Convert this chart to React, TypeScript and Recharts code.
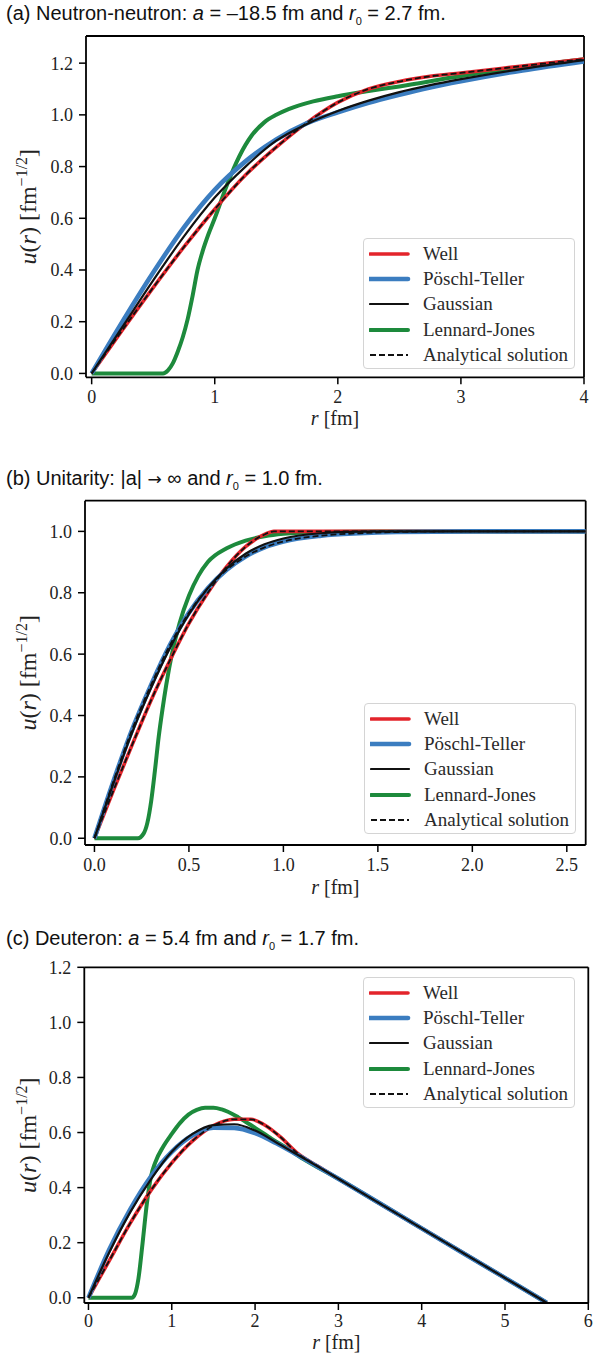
import React from "react";
import { LineChart, Line, XAxis, YAxis, Legend, ReferenceLine } from "recharts";

const SERIF = '"Liberation Serif", "Times New Roman", serif';
const SANS = '"Liberation Sans", Arial, sans-serif';

const RED = "#e3242b";
const BLUE = "#3b7dc0";
const GREEN = "#1d8a3c";
const BLACK = "#111111";

// ---- panel (a) neutron-neutron ----
const aR = [0, 0.25, 0.5, 0.75, 1.0, 1.25, 1.5, 1.75, 2.0, 2.25, 2.5, 2.75, 3.0, 3.5, 4.0];
const aWell = [0, 0.168, 0.332, 0.489, 0.635, 0.767, 0.875, 0.97, 1.048, 1.1, 1.129, 1.149, 1.162, 1.189, 1.216];
const aPoschl = [0, 0.2, 0.39, 0.565, 0.71, 0.82, 0.905, 0.968, 1.01, 1.047, 1.078, 1.106, 1.13, 1.172, 1.207];
const aGauss = [0, 0.18, 0.36, 0.53, 0.68, 0.8, 0.9, 0.965, 1.015, 1.055, 1.088, 1.115, 1.138, 1.178, 1.212];
const aLjR = [0, 0.58, 0.62, 0.66, 0.7, 0.74, 0.78, 0.82, 0.86, 0.9, 0.95, 1.0, 1.1, 1.2, 1.3, 1.4, 1.5, 1.6, 1.8, 2.0, 2.25, 2.5, 3.0, 3.5, 4.0];
const aLj = [0, 0, 0.012, 0.04, 0.085, 0.14, 0.21, 0.3, 0.4, 0.47, 0.54, 0.6, 0.73, 0.84, 0.92, 0.97, 1.0, 1.022, 1.052, 1.072, 1.092, 1.11, 1.15, 1.185, 1.215];
const aAnalytic = [0, 0.168, 0.332, 0.489, 0.635, 0.767, 0.875, 0.97, 1.048, 1.1, 1.129, 1.149, 1.162, 1.189, 1.216];

// ---- panel (b) unitarity ----
const bWellR = [0, 0.1, 0.2, 0.3, 0.4, 0.5, 0.6, 0.7, 0.8, 0.9, 0.95, 1.2, 1.6, 2.0, 2.6];
const bWell = [0, 0.155, 0.305, 0.45, 0.58, 0.7, 0.8, 0.885, 0.95, 0.99, 1.0, 1.0, 1.0, 1.0, 1.0];
const bR = [0, 0.1, 0.2, 0.3, 0.4, 0.5, 0.6, 0.7, 0.8, 0.9, 1.0, 1.2, 1.4, 1.6, 2.0, 2.6];
const bPoschl = [0, 0.185, 0.355, 0.5, 0.63, 0.735, 0.815, 0.875, 0.918, 0.948, 0.967, 0.986, 0.994, 0.998, 1.0, 1.0];
const bGauss = [0, 0.178, 0.345, 0.49, 0.62, 0.73, 0.815, 0.88, 0.927, 0.958, 0.977, 0.994, 0.999, 1.0, 1.0, 1.0];
const bLjR = [0, 0.23, 0.26, 0.28, 0.3, 0.32, 0.34, 0.36, 0.38, 0.41, 0.45, 0.5, 0.55, 0.6, 0.7, 0.8, 0.9, 1.0, 1.2, 1.5, 2.6];
const bLj = [0, 0, 0.015, 0.05, 0.12, 0.22, 0.33, 0.42, 0.5, 0.6, 0.7, 0.79, 0.855, 0.9, 0.945, 0.97, 0.984, 0.992, 0.998, 1.0, 1.0];
const bAnalyticWell = [0, 0.155, 0.305, 0.45, 0.58, 0.7, 0.8, 0.885, 0.95, 0.99, 1.0, 1.0, 1.0, 1.0, 1.0];
const bAnalyticPoschl = [0, 0.185, 0.355, 0.5, 0.63, 0.735, 0.815, 0.875, 0.918, 0.948, 0.967, 0.986, 0.994, 0.998, 1.0, 1.0];

// ---- panel (c) deuteron ----
const cWellR = [0, 0.25, 0.5, 0.75, 1.0, 1.25, 1.5, 1.75, 1.95, 2.1, 2.3, 2.5, 2.75, 3.0, 3.5, 4.0, 4.5, 5.0, 5.4, 5.5];
const cWell = [0, 0.135, 0.27, 0.39, 0.49, 0.57, 0.625, 0.648, 0.648, 0.63, 0.585, 0.527, 0.478, 0.432, 0.342, 0.252, 0.162, 0.072, 0, -0.018];
const cR = [0, 0.25, 0.5, 0.75, 1.0, 1.25, 1.5, 1.75, 2.0, 2.25, 2.5, 2.75, 3.0, 3.5, 4.0, 4.5, 5.0, 5.4, 5.5];
const cPoschl = [0, 0.175, 0.32, 0.44, 0.53, 0.59, 0.618, 0.617, 0.598, 0.562, 0.52, 0.476, 0.432, 0.342, 0.252, 0.162, 0.072, 0, -0.018];
const cGauss = [0, 0.165, 0.31, 0.43, 0.53, 0.595, 0.627, 0.63, 0.607, 0.565, 0.521, 0.477, 0.432, 0.342, 0.252, 0.162, 0.072, 0, -0.018];
const cLjR = [0, 0.52, 0.56, 0.6, 0.65, 0.7, 0.75, 0.8, 0.9, 1.0, 1.1, 1.2, 1.3, 1.4, 1.5, 1.6, 1.8, 2.0, 2.2, 2.4, 2.6, 2.8, 3.0, 3.5, 4.0, 4.5, 5.0, 5.4, 5.5];
const cLj = [0, 0, 0.015, 0.07, 0.2, 0.34, 0.44, 0.49, 0.55, 0.595, 0.635, 0.665, 0.682, 0.69, 0.69, 0.684, 0.655, 0.617, 0.577, 0.54, 0.5, 0.466, 0.432, 0.342, 0.252, 0.162, 0.072, 0, -0.018];
const cAnalytic = [0, 0.135, 0.27, 0.39, 0.49, 0.57, 0.625, 0.648, 0.648, 0.63, 0.585, 0.527, 0.478, 0.432, 0.342, 0.252, 0.162, 0.072, 0, -0.018];

const legendNames = ["Well", "Pöschl-Teller", "Gaussian", "Lennard-Jones", "Analytical solution"];

type Pt = { r: number; u: number };
const pts = (rs: number[], us: number[]): Pt[] => rs.map((r, i) => ({ r, u: us[i] }));

type LineStyle = { stroke: string; width: number; dash?: string };
const styles: Record<string, LineStyle> = {
  well: { stroke: RED, width: 3.6 },
  poschl: { stroke: BLUE, width: 4.6 },
  gauss: { stroke: BLACK, width: 2.2 },
  lj: { stroke: GREEN, width: 4 },
  analytic: { stroke: BLACK, width: 1.8, dash: "6 3" },
};

const legendRows = [styles.well, styles.poschl, styles.gauss, styles.lj, styles.analytic];

const LegendBox = () => (
  <div
    style={{
      width: 212,
      height: 131,
      boxSizing: "border-box",
      border: "1px solid #d4d4d4",
      borderRadius: 4,
      background: "rgba(255,255,255,0.85)",
      paddingTop: 2,
    }}
  >
    {legendNames.map((name, i) => {
      const s = legendRows[i];
      return (
        <div key={name} style={{ height: 25.3, display: "flex", alignItems: "center" }}>
          <svg width={52} height={10} style={{ marginLeft: 5 }}>
            <line
              x1={1}
              x2={39}
              y1={5}
              y2={5}
              stroke={s.stroke}
              strokeWidth={s.width}
              strokeDasharray={s.dash}
              strokeLinecap={s.dash ? "butt" : "round"}
            />
          </svg>
          <span style={{ fontFamily: SERIF, fontSize: 19, color: "#2a2a2a", marginLeft: 2 }}>{name}</span>
        </div>
      );
    })}
  </div>
);

const XLabel = (dy: number) => (props: any) => {
  const vb = props.viewBox || {};
  return (
    <text x={vb.x + vb.width / 2} y={vb.y + dy} textAnchor="middle" fontFamily={SERIF} fontSize={20} fill="#222">
      <tspan fontStyle="italic">r</tspan>
      <tspan> [fm]</tspan>
    </text>
  );
};

const YLabel = (props: any) => {
  const vb = props.viewBox || {};
  const cx = 36;
  const cy = vb.y + vb.height / 2;
  return (
    <text x={cx} y={cy} transform={`rotate(-90, ${cx}, ${cy})`} textAnchor="middle" fontFamily={SERIF} fontSize={24} fill="#222">
      <tspan fontStyle="italic">u</tspan>
      <tspan>(</tspan>
      <tspan fontStyle="italic">r</tspan>
      <tspan>) [fm</tspan>
      <tspan dy={-9} fontSize={16}>−1/2</tspan>
      <tspan dy={9}>]</tspan>
    </text>
  );
};

const XTick = (fmt: (v: number) => string) => (p: any) => (
  <text x={p.x} y={p.y} dy="0.71em" textAnchor="middle" fontFamily={SERIF} fontSize={18} fill="#222">
    {fmt(p.payload.value)}
  </text>
);

const YTick = (p: any) => (
  <text x={p.x} y={p.y} dy="0.355em" textAnchor="end" fontFamily={SERIF} fontSize={18} fill="#222">
    {Number(p.payload.value).toFixed(1)}
  </text>
);

type Series = { key: string; data: Pt[]; st: LineStyle };

type PanelCfg = {
  top: number;
  height: number;
  mTop: number;
  mRight: number;
  mBottom: number;
  yW: number;
  xDomain: [number, number];
  yDomain: [number, number];
  xTicks: number[];
  yTicks: number[];
  xFmt: (v: number) => string;
  xTickMargin: number;
  xLabelDy: number;
  legendTop: number;
  legendLeft: number;
  series: Series[];
};

const Panel = ({ cfg }: { cfg: PanelCfg }) => {
  const axisLine = { stroke: "#000", strokeWidth: 1.8 };
  const tickLine = { stroke: "#000", strokeWidth: 1.5 };
  return (
    <div style={{ position: "absolute", left: 0, top: cfg.top, width: 606, height: cfg.height }}>
      <LineChart width={606} height={cfg.height} margin={{ top: cfg.mTop, right: cfg.mRight, bottom: cfg.mBottom, left: 0 }}>
        <XAxis
          dataKey="r"
          type="number"
          domain={cfg.xDomain}
          ticks={cfg.xTicks}
          allowDataOverflow
          tickSize={7}
          tickMargin={cfg.xTickMargin}
          height={50}
          tick={XTick(cfg.xFmt)}
          axisLine={axisLine}
          tickLine={tickLine}
          label={{ content: XLabel(cfg.xLabelDy) }}
        />
        <YAxis
          type="number"
          domain={cfg.yDomain}
          ticks={cfg.yTicks}
          allowDataOverflow
          tickSize={7}
          tickMargin={6}
          width={cfg.yW}
          tick={YTick}
          axisLine={axisLine}
          tickLine={tickLine}
          label={{ content: YLabel }}
        />
        {/* top and right spines */}
        <ReferenceLine y={cfg.yDomain[1]} stroke="#000" strokeWidth={1.8} />
        <ReferenceLine x={cfg.xDomain[1]} stroke="#000" strokeWidth={1.8} />
        {cfg.series.map((s) => (
          <Line
            key={s.key}
            data={s.data}
            dataKey="u"
            type="monotone"
            stroke={s.st.stroke}
            strokeWidth={s.st.width}
            strokeDasharray={s.st.dash}
            dot={false}
            activeDot={false}
            isAnimationActive={false}
            legendType="none"
          />
        ))}
        <Legend
          layout="horizontal"
          verticalAlign="middle"
          align="center"
          content={() => <LegendBox />}
          wrapperStyle={{ left: cfg.legendLeft, top: cfg.legendTop, width: 212, height: 131 }}
        />
      </LineChart>
    </div>
  );
};

const intFmt = (v: number) => String(v);
const oneDec = (v: number) => v.toFixed(1);

const panelA: PanelCfg = {
  top: 0,
  height: 440,
  mTop: 36,
  mRight: 22,
  mBottom: 12.7,
  yW: 86,
  xDomain: [-0.046, 4],
  yDomain: [-0.015, 1.305],
  xTicks: [0, 1, 2, 3, 4],
  yTicks: [0, 0.2, 0.4, 0.6, 0.8, 1.0, 1.2],
  xFmt: intFmt,
  xTickMargin: 6,
  xLabelDy: 48,
  legendTop: 238,
  legendLeft: 363,
  series: [
    { key: "lj", data: pts(aLjR, aLj), st: styles.lj },
    { key: "well", data: pts(aR, aWell), st: styles.well },
    { key: "poschl", data: pts(aR, aPoschl), st: styles.poschl },
    { key: "gauss", data: pts(aR, aGauss), st: styles.gauss },
    { key: "analytic", data: pts(aR, aAnalytic), st: styles.analytic },
  ],
};

const panelB: PanelCfg = {
  top: 460,
  height: 440,
  mTop: 40.7,
  mRight: 20.3,
  mBottom: 5,
  yW: 85,
  xDomain: [-0.05, 2.6],
  yDomain: [-0.022, 1.1],
  xTicks: [0, 0.5, 1.0, 1.5, 2.0, 2.5],
  yTicks: [0, 0.2, 0.4, 0.6, 0.8, 1.0],
  xFmt: oneDec,
  xTickMargin: 6,
  xLabelDy: 49,
  legendTop: 243,
  legendLeft: 364,
  series: [
    { key: "lj", data: pts(bLjR, bLj), st: styles.lj },
    { key: "well", data: pts(bWellR, bWell), st: styles.well },
    { key: "poschl", data: pts(bR, bPoschl), st: styles.poschl },
    { key: "gauss", data: pts(bR, bGauss), st: styles.gauss },
    { key: "analytic-well", data: pts(bWellR, bAnalyticWell), st: styles.analytic },
    { key: "analytic-poschl", data: pts(bR, bAnalyticPoschl), st: styles.analytic },
  ],
};

const panelC: PanelCfg = {
  top: 920,
  height: 437,
  mTop: 47.3,
  mRight: 17.7,
  mBottom: 4,
  yW: 84.3,
  xDomain: [-0.05, 6],
  yDomain: [-0.019, 1.2],
  xTicks: [0, 1, 2, 3, 4, 5, 6],
  yTicks: [0, 0.2, 0.4, 0.6, 0.8, 1.0, 1.2],
  xFmt: intFmt,
  xTickMargin: 4,
  xLabelDy: 45.5,
  legendTop: 57,
  legendLeft: 363,
  series: [
    { key: "lj", data: pts(cLjR, cLj), st: styles.lj },
    { key: "well", data: pts(cWellR, cWell), st: styles.well },
    { key: "poschl", data: pts(cR, cPoschl), st: styles.poschl },
    { key: "gauss", data: pts(cR, cGauss), st: styles.gauss },
    { key: "analytic", data: pts(cWellR, cAnalytic), st: styles.analytic },
  ],
};

const titleStyle: React.CSSProperties = {
  position: "absolute",
  left: 6,
  fontFamily: SANS,
  fontSize: 20,
  color: "#111",
  whiteSpace: "nowrap",
  lineHeight: "22px",
  zIndex: 2,
};
const subStyle: React.CSSProperties = { fontSize: 11, verticalAlign: -5 };

export default function App() {
  return (
    <div style={{ position: "absolute", left: 0, top: 0, width: 606, height: 1357, background: "#fff", overflow: "hidden" }}>
      <div style={{ ...titleStyle, top: 2 }}>
        (a) Neutron-neutron: <i>a</i> = –18.5 fm and <i>r</i>
        <span style={subStyle}>0</span> = 2.7 fm.
      </div>
      <div style={{ ...titleStyle, top: 467 }}>
        (b) Unitarity: |a| <span style={{ fontFamily: '"DejaVu Sans", sans-serif', fontSize: 17 }}>→</span> ∞ and <i>r</i>
        <span style={subStyle}>0</span> = 1.0 fm.
      </div>
      <div style={{ ...titleStyle, top: 927 }}>
        (c) Deuteron: <i>a</i> = 5.4 fm and <i>r</i>
        <span style={subStyle}>0</span> = 1.7 fm.
      </div>
      <Panel cfg={panelA} />
      <Panel cfg={panelB} />
      <Panel cfg={panelC} />
    </div>
  );
}
